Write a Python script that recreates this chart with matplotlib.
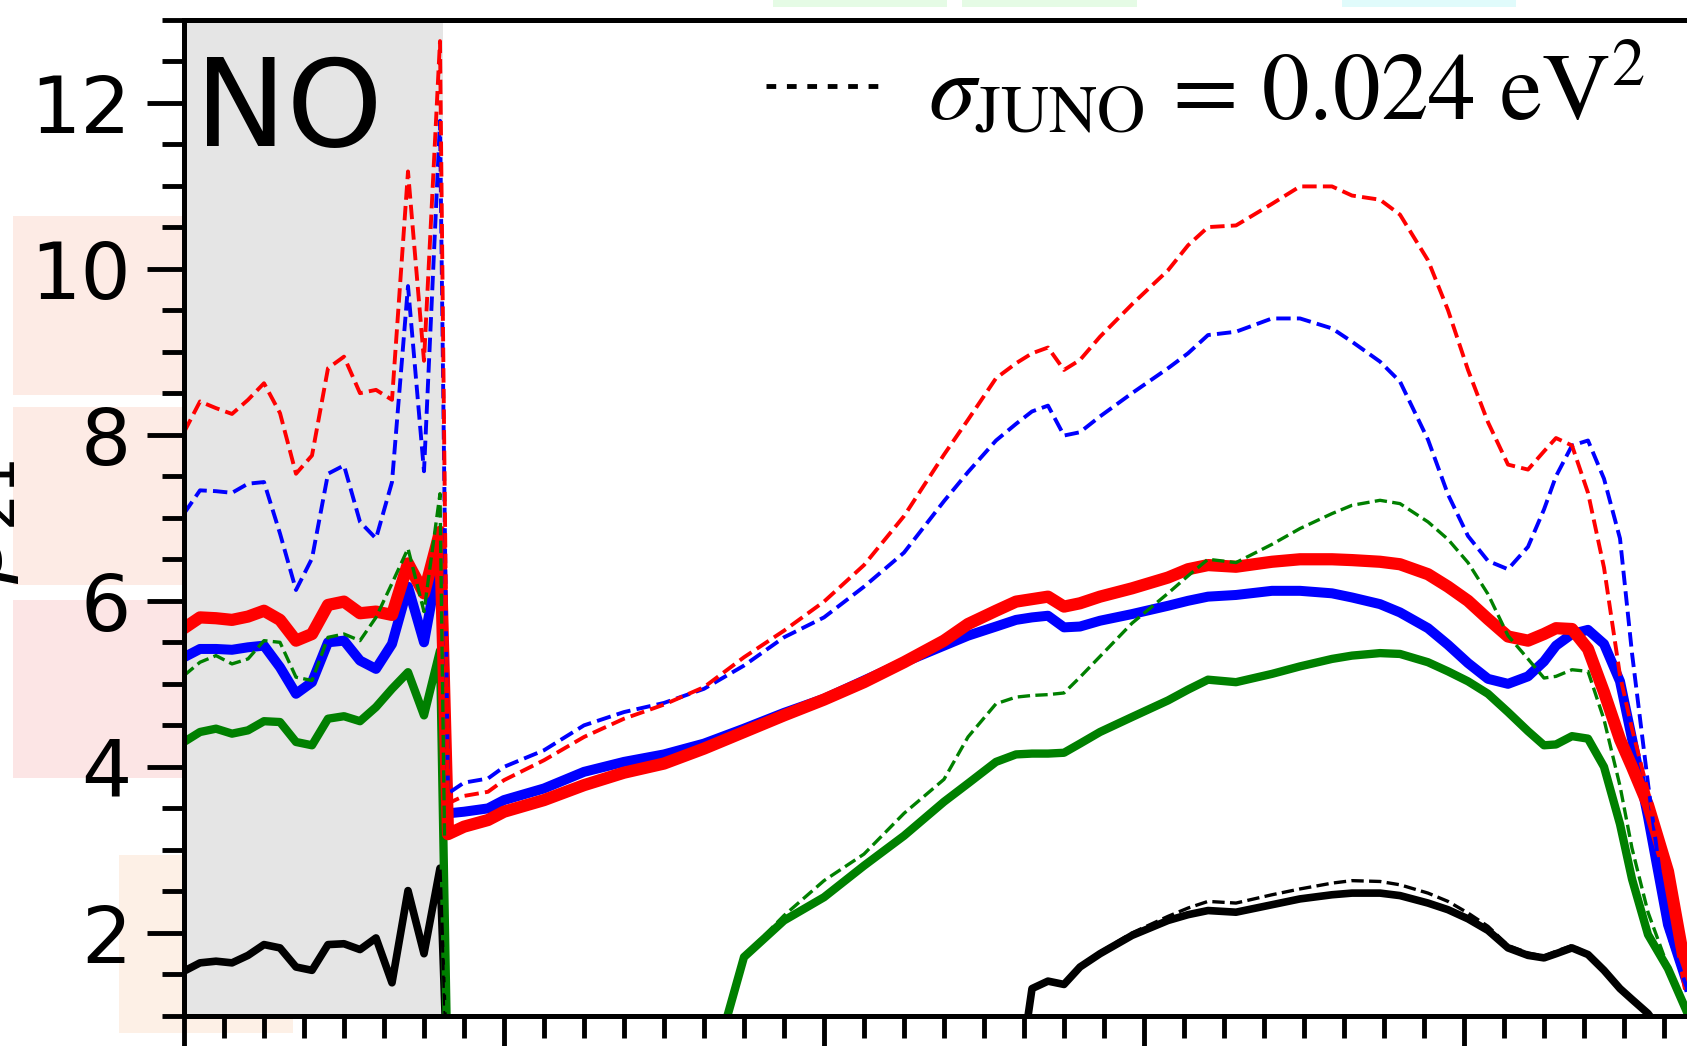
import matplotlib
matplotlib.use('Agg')
import matplotlib.pyplot as plt
from matplotlib.patches import Rectangle
from matplotlib.font_manager import FontProperties
from matplotlib.ticker import MultipleLocator

# x positions: dense sampling inside the shaded "NO" band, then the rest
x_no = [0.0, 0.4, 0.8, 1.2, 1.6, 2.0, 2.4, 2.8, 3.2, 3.6, 4.0, 4.4, 4.8, 5.2, 5.6, 6.0, 6.4]
x_rest = [6.6, 7.0, 7.6, 8.0, 9, 10, 11, 12, 13, 14, 15, 16, 17, 18, 19, 19.6, 20.3, 20.8,
          21.2, 21.6, 22.0, 22.4, 22.9, 23.7, 24.6, 25.1, 25.6, 26.3, 27.2, 27.9, 28.7, 29.2,
          29.9, 30.4, 31.1, 31.6, 32.1, 32.6, 33.1, 33.6, 34.0, 34.3, 34.7, 35.1, 35.5, 35.9,
          36.2, 36.6, 37.1, 37.6]
x = x_no + x_rest

red_solid = [5.67, 5.80, 5.79, 5.77, 5.81, 5.88, 5.77, 5.52, 5.60, 5.95, 5.99, 5.85, 5.87, 5.83, 6.45, 6.09, 6.83,
             3.19, 3.28, 3.36, 3.46, 3.60, 3.78, 3.93, 4.04, 4.22, 4.42, 4.62, 4.81, 5.02, 5.26, 5.52, 5.72,
             5.88, 5.99, 6.02, 6.05, 5.93, 5.97, 6.05, 6.15, 6.28, 6.38, 6.43, 6.41, 6.47, 6.50, 6.50, 6.49,
             6.47, 6.44, 6.32, 6.17, 6.00, 5.78, 5.57, 5.52, 5.60, 5.67, 5.66, 5.42, 4.90, 4.33, 4.00, 3.54,
             2.74, 1.40]
blue_solid = [5.32, 5.42, 5.42, 5.41, 5.44, 5.46, 5.20, 4.88, 5.02, 5.50, 5.52, 5.28, 5.18, 5.48, 6.17, 5.50, 6.55,
              3.44, 3.46, 3.50, 3.60, 3.74, 3.94, 4.06, 4.15, 4.28, 4.46, 4.65, 4.82, 5.04, 5.26, 5.46, 5.58,
              5.69, 5.77, 5.80, 5.82, 5.68, 5.69, 5.76, 5.84, 5.94, 6.00, 6.05, 6.07, 6.12, 6.12, 6.09, 6.04,
              5.96, 5.86, 5.67, 5.47, 5.25, 5.06, 5.00, 5.09, 5.27, 5.46, 5.60, 5.65, 5.48, 5.03, 4.34, 3.40,
              2.10, 1.36]
green_solid = [4.30, 4.42, 4.46, 4.40, 4.44, 4.55, 4.54, 4.30, 4.26, 4.58, 4.61, 4.55, 4.72, 4.94, 5.14, 4.62, 5.40,
               0, 0, 0, 0, 0, 0, 0, 0, 0, 1.71, 2.15, 2.43, 2.81, 3.17, 3.58, 3.80,
               4.06, 4.15, 4.16, 4.16, 4.17, 4.28, 4.42, 4.60, 4.80, 4.93, 5.05, 5.02, 5.12, 5.21, 5.30, 5.34,
               5.37, 5.36, 5.26, 5.15, 5.03, 4.88, 4.66, 4.43, 4.26, 4.27, 4.37, 4.34, 4.00, 3.31, 2.65, 1.98,
               1.57, 1.02]
black_solid = [1.54, 1.64, 1.66, 1.64, 1.73, 1.86, 1.82, 1.59, 1.55, 1.86, 1.87, 1.80, 1.94, 1.40, 2.51, 1.75, 2.78,
               0, 0, 0, 0, 0, 0, 0, 0, 0, 0, 0, 0, 0, 0, 0, 0,
               0, 0, 1.33, 1.42, 1.38, 1.59, 1.75, 1.97, 2.15, 2.22, 2.27, 2.25, 2.34, 2.41, 2.46, 2.48,
               2.48, 2.45, 2.36, 2.28, 2.17, 2.03, 1.82, 1.73, 1.70, 1.75, 1.82, 1.74, 1.55, 1.33, 1.20, 1.03,
               0.70, 0.40]

red_dashed = [8.03, 8.40, 8.32, 8.25, 8.42, 8.62, 8.26, 7.53, 7.75, 8.80, 8.94, 8.50, 8.54, 8.42, 11.17, 8.89, 12.74,
              3.56, 3.65, 3.70, 3.84, 4.08, 4.36, 4.58, 4.75, 4.96, 5.32, 5.64, 5.99, 6.43, 7.02, 7.76, 8.18,
              8.68, 8.86, 8.98, 9.05, 8.78, 8.90, 9.18, 9.57, 9.98, 10.28, 10.50, 10.52, 10.78, 10.99, 10.99, 10.88,
              10.83, 10.65, 10.10, 9.50, 8.78, 8.15, 7.64, 7.58, 7.80, 7.96, 7.87, 7.30, 6.40, 5.10, 4.46, 3.70,
              2.74, 1.59]
blue_dashed = [7.05, 7.33, 7.32, 7.30, 7.41, 7.43, 6.81, 6.13, 6.51, 7.53, 7.63, 6.95, 6.75, 7.43, 9.79, 7.56, 11.78,
               3.68, 3.81, 3.86, 4.00, 4.20, 4.50, 4.66, 4.77, 4.94, 5.22, 5.56, 5.80, 6.17, 6.58, 7.20, 7.55,
               7.93, 8.13, 8.28, 8.35, 7.99, 8.03, 8.22, 8.50, 8.80, 8.98, 9.20, 9.24, 9.40, 9.40, 9.28, 9.12,
               8.88, 8.64, 7.94, 7.28, 6.78, 6.48, 6.38, 6.65, 7.10, 7.50, 7.87, 7.93, 7.47, 6.75, 5.37, 3.80,
               1.99, 1.30]
green_dashed = [5.10, 5.26, 5.34, 5.24, 5.30, 5.52, 5.50, 5.08, 5.04, 5.56, 5.60, 5.52, 5.80, 6.21, 6.63, 5.87, 7.29,
                0, 0, 0, 0, 0, 0, 0, 0, 0, 1.72, 2.21, 2.63, 2.95, 3.44, 3.85, 4.36,
                4.76, 4.84, 4.86, 4.87, 4.89, 5.08, 5.33, 5.73, 6.09, 6.30, 6.50, 6.46, 6.68, 6.87, 7.05, 7.15,
                7.21, 7.17, 6.95, 6.74, 6.46, 6.08, 5.58, 5.30, 5.07, 5.09, 5.17, 5.15, 4.57, 3.77, 3.02, 2.25,
                1.59, 1.05]
black_dashed = [1.56, 1.65, 1.67, 1.65, 1.75, 1.85, 1.83, 1.60, 1.56, 1.86, 1.88, 1.81, 1.93, 1.42, 2.50, 1.76, 2.78,
                0, 0, 0, 0, 0, 0, 0, 0, 0, 0, 0, 0, 0, 0, 0, 0,
                0, 0, 1.33, 1.42, 1.39, 1.60, 1.77, 2.00, 2.20, 2.30, 2.38, 2.36, 2.46, 2.53, 2.60, 2.63,
                2.62, 2.58, 2.48, 2.38, 2.24, 2.08, 1.85, 1.76, 1.72, 1.78, 1.85, 1.75, 1.55, 1.33, 1.20, 1.03,
                0.70, 0.40]

no_band = (0.0, 6.47)
legend_label = r'$\sigma_{\rm JUNO}$ = 0.024 eV$^2$'

W, H = 1687, 1046
fig = plt.figure(figsize=(W / 100, H / 100), dpi=100)

# pale boxes lying behind the axes (pixel boxes: left, top, width, height)
boxes = [(13, 216, 174, 179, '#fdebe5'), (13, 407, 174, 178, '#fdebe5'),
         (13, 600, 174, 178, '#fce5e5'), (119, 855, 174, 178, '#fdf0e6'),
         (773, -171, 174, 178, '#e5fbe5'), (962, -171, 175, 178, '#e5fbe5'),
         (1342, -171, 174, 178, '#e0fbfb')]
for bx, by, bw, bh, bc in boxes:
    fig.add_artist(Rectangle((bx / W, 1 - (by + bh) / H), bw / W, bh / H,
                             transform=fig.transFigure, color=bc, lw=0, zorder=-5))

ax = fig.add_axes([184 / W, 30 / H, 1600 / W, 996.5 / H])
ax.axvspan(*no_band, color='#e5e5e5', lw=0, zorder=0)

ax.plot(x, black_solid, color='k', lw=5.5)
ax.plot(x, green_solid, color='g', lw=6.0)
ax.plot(x, blue_solid, color='b', lw=7.2)
ax.plot(x, red_solid, color='r', lw=8.8)
ax.plot(x, black_dashed, color='k', lw=2.4, ls='--')
ax.plot(x, green_dashed, color='g', lw=2.4, ls='--')
ax.plot(x, blue_dashed, color='b', lw=2.8, ls='--')
ax.plot(x, red_dashed, color='r', lw=2.8, ls='--')

ax.plot([], [], color='k', lw=3.5, ls=(0, (2, 2.2)), label=legend_label)
ax.legend(loc='center left', bbox_to_anchor=(766 / W, 1 - 92 / H), bbox_transform=fig.transFigure,
          frameon=False, prop=FontProperties(family='STIXGeneral', size=68.5, math_fontfamily='stix'),
          handlelength=1.28, handletextpad=0.42, borderpad=0, borderaxespad=0)

ax.set_xlim(0, 40)
ax.set_ylim(1, 13)
ax.xaxis.set_major_locator(MultipleLocator(8))
ax.xaxis.set_minor_locator(MultipleLocator(1))
ax.yaxis.set_major_locator(MultipleLocator(2))
ax.yaxis.set_minor_locator(MultipleLocator(0.5))
ax.tick_params(which='major', length=26.6, width=3.5, labelsize=57, pad=11.5)
ax.tick_params(which='minor', length=15.5, width=3.5)
ax.tick_params(axis='x', labelbottom=False)
ax.spines['right'].set_visible(False)
for s in ['left', 'top', 'bottom']:
    ax.spines[s].set_linewidth(3.6)

fig.text(195 / W, 1 - 146 / H, 'NO', fontsize=88, va='baseline', ha='left')
fig.text(21 / W, 1 - 522 / H, r'$\beta_{21}$', fontsize=60, rotation=90, ha='right', va='center')

fig.savefig('out.png', dpi=100)
